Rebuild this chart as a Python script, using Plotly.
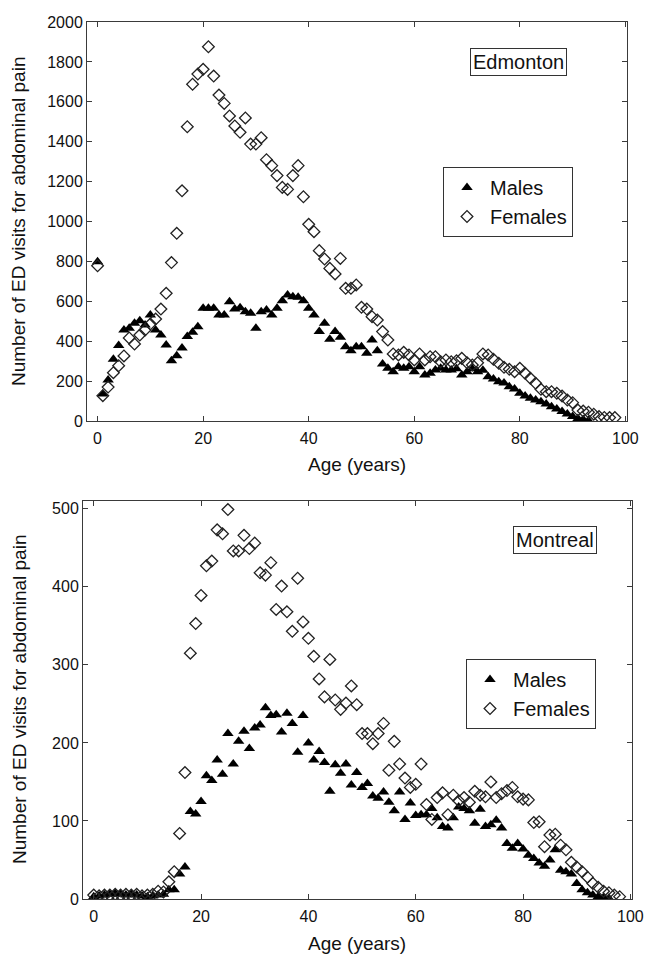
import plotly.graph_objects as go

# ---------------- data ----------------
edm_age_m = list(range(0, 94))
edm_males = [798, 135, 205, 310, 378, 456, 465, 490, 503, 481,
             531, 456, 431, 381, 302, 327, 366, 423, 445, 473,
             565, 565, 565, 531, 531, 598, 561, 568, 548, 540,
             465, 548, 556, 531, 565, 603, 632, 623, 620, 603,
             565, 531, 448, 490, 410, 448, 420, 372, 352, 372,
             372, 339, 406, 352, 286, 264, 247, 272, 264, 272,
             247, 272, 231, 239, 256, 264, 256, 256, 262, 231,
             247, 262, 247, 255, 222, 210, 197, 190, 172, 160,
             139, 125, 114, 105, 97, 85, 72, 60, 47, 35,
             22, 12, 8, 3]
edm_age_f = list(range(0, 99))
edm_females = [778, 127, 170, 242, 277, 326, 416, 386, 431, 456,
               486, 511, 561, 640, 794, 941, 1154, 1475, 1688, 1739,
               1763, 1876, 1729, 1634, 1592, 1529, 1479, 1447, 1519, 1388,
               1388, 1420, 1310, 1280, 1230, 1171, 1161, 1230, 1280, 1124,
               986, 949, 854, 812, 765, 737, 815, 665, 665, 682,
               570, 561, 523, 506, 448, 406, 336, 331, 344, 331,
               306, 336, 306, 322, 322, 297, 306, 297, 302, 314,
               292, 281, 292, 336, 331, 309, 289, 269, 259, 247,
               264, 239, 214, 189, 159, 147, 147, 139, 125, 105,
               92, 55, 50, 44, 34, 22, 18, 17, 17]

mtl_age_m = list(range(0, 97))
mtl_males = [3, 4, 5, 6, 7, 6, 5, 6, 5, 4,
             3, 4, 5, 6, 12, 12, 32, 41, 112, 109,
             125, 158, 152, 178, 160, 212, 173, 202, 215, 193,
             219, 223, 245, 235, 236, 214, 238, 225, 188, 235,
             200, 178, 189, 175, 138, 172, 161, 173, 146, 162,
             143, 148, 132, 129, 137, 124, 113, 137, 102, 123,
             107, 108, 108, 116, 104, 93, 91, 104, 118, 116,
             113, 97, 115, 93, 95, 101, 91, 71, 65, 71,
             64, 56, 52, 46, 42, 50, 63, 37, 35, 32,
             20, 12, 8, 5, 3, 2, 1]
mtl_age_f = list(range(0, 99))
mtl_females = [5, 4, 5, 5, 6, 5, 6, 5, 6, 4,
               5, 6, 10, 9, 22, 35, 84, 162, 315, 353,
               389, 427, 433, 473, 468, 499, 446, 446, 466, 449,
               456, 418, 415, 431, 371, 401, 368, 343, 411, 355,
               334, 311, 282, 259, 307, 255, 243, 251, 273, 249,
               212, 212, 199, 212, 225, 165, 202, 173, 155, 143,
               147, 173, 121, 102, 130, 136, 108, 133, 126, 130,
               124, 138, 133, 131, 150, 130, 135, 139, 143, 131,
               128, 127, 98, 99, 67, 82, 83, 69, 63, 47,
               41, 35, 28, 20, 15, 10, 8, 5, 3]

x_ticks = [0, 20, 40, 60, 80, 100]
edm_y_ticks = [0, 200, 400, 600, 800, 1000, 1200, 1400, 1600, 1800, 2000]
mtl_y_ticks = [0, 100, 200, 300, 400, 500]

FONT = "Arial, Liberation Sans, sans-serif"
AX = "#3a3a3a"
TXT = "#111111"

fig = go.Figure()

tri = dict(symbol="triangle-up", size=10, color="black", line=dict(width=0))
dia = dict(symbol="diamond-open", size=9, color="#222", line=dict(width=1.3, color="#222"))

fig.add_trace(go.Scatter(x=edm_age_m, y=edm_males, mode="markers", name="Males",
                         marker=tri, xaxis="x", yaxis="y", legend="legend"))
fig.add_trace(go.Scatter(x=edm_age_f, y=edm_females, mode="markers", name="Females",
                         marker=dia, xaxis="x", yaxis="y", legend="legend"))
fig.add_trace(go.Scatter(x=mtl_age_m, y=mtl_males, mode="markers", name="Males",
                         marker=tri, xaxis="x2", yaxis="y2", legend="legend2"))
fig.add_trace(go.Scatter(x=mtl_age_f, y=mtl_females, mode="markers", name="Females",
                         marker=dia, xaxis="x2", yaxis="y2", legend="legend2"))

L, R, T, B = 83, 13, 22, 55
W, H = 645, 954
pw = W - L - R
ph = H - T - B


def px2x(p):
    return (p - L) / pw


def py2y(p):
    return (H - B - p) / ph


axcommon = dict(showgrid=False, zeroline=False, showline=True, linecolor=AX, linewidth=1,
                mirror="allticks", ticks="inside", ticklen=5, tickcolor=AX, automargin=False,
                tickfont=dict(family=FONT, size=16, color=TXT))

fig.update_layout(
    width=W, height=H,
    margin=dict(l=L, r=R, t=T, b=B, autoexpand=False),
    paper_bgcolor="white", plot_bgcolor="white",
    font=dict(family=FONT, color=TXT),
    xaxis=dict(axcommon, range=[-2, 100.3], tickvals=x_ticks, anchor="y",
               domain=[px2x(87), px2x(627)], ticklabelstandoff=3),
    yaxis=dict(axcommon, range=[0, 2000], tickvals=edm_y_ticks, anchor="x",
               domain=[py2y(421), py2y(22)]),
    xaxis2=dict(axcommon, range=[-2, 100.3], tickvals=x_ticks, anchor="y2",
                domain=[px2x(83), px2x(632)], ticklabelstandoff=3),
    yaxis2=dict(axcommon, range=[0, 510], tickvals=mtl_y_ticks, anchor="x2",
                domain=[py2y(899), py2y(501)]),
    legend=dict(x=px2x(443), y=py2y(167), xanchor="left", yanchor="top",
                bordercolor="#333", borderwidth=1, bgcolor="white", itemwidth=36,
                font=dict(family=FONT, size=20, color=TXT), tracegroupgap=0),
    legend2=dict(x=px2x(466), y=py2y(659), xanchor="left", yanchor="top",
                 bordercolor="#333", borderwidth=1, bgcolor="white", itemwidth=36,
                 font=dict(family=FONT, size=20, color=TXT), tracegroupgap=0),
    showlegend=True,
)

# axis titles
for (xp, yp) in [(357, 464), (357, 943)]:
    fig.add_annotation(text="Age (years)", x=px2x(xp), y=py2y(yp), xref="paper", yref="paper",
                       xanchor="center", yanchor="middle",
                       showarrow=False, font=dict(family=FONT, size=19, color=TXT))
for yp in [222, 700]:
    fig.add_annotation(text="Number of ED visits for abdominal pain", x=px2x(19), y=py2y(yp),
                       xref="paper", yref="paper", textangle=-90, showarrow=False,
                       xanchor="center", yanchor="middle",
                       font=dict(family=FONT, size=19, color=TXT))

fig.add_annotation(text="Edmonton", x=px2x(518), y=py2y(62), xref="paper", yref="paper",
                   xanchor="center", yanchor="middle",
                   showarrow=False, font=dict(family=FONT, size=20, color=TXT),
                   bordercolor="#333", borderwidth=1, borderpad=2, bgcolor="white")
fig.add_annotation(text="Montreal", x=px2x(555), y=py2y(540), xref="paper", yref="paper",
                   xanchor="center", yanchor="middle",
                   showarrow=False, font=dict(family=FONT, size=20, color=TXT),
                   bordercolor="#333", borderwidth=1, borderpad=2, bgcolor="white")

fig.write_html("out.html", config={"displayModeBar": False},
               post_script="document.body.style.margin='0';document.body.style.overflow='hidden';")
